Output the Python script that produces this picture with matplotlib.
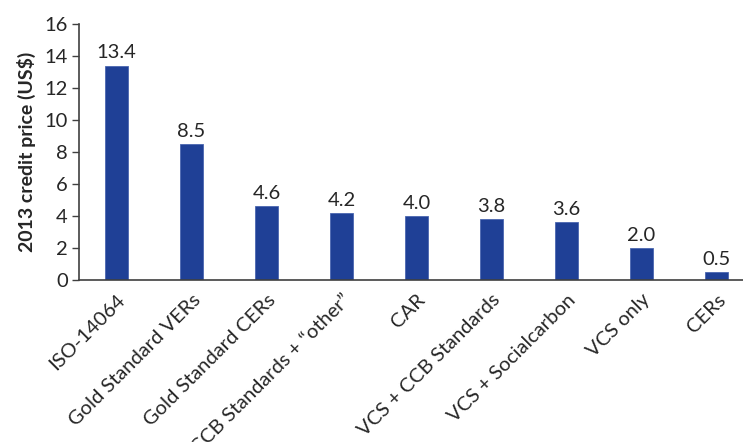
import matplotlib.pyplot as plt

categories = [
    "ISO-14064",
    "Gold Standard VERs",
    "Gold Standard CERs",
    "VCS + CCB Standards + \u201cother\u201d",
    "CAR",
    "VCS + CCB Standards",
    "VCS + Socialcarbon",
    "VCS only",
    "CERs",
]
prices = [13.4, 8.5, 4.6, 4.2, 4.0, 3.8, 3.6, 2.0, 0.5]
y_ticks = [0, 2, 4, 6, 8, 10, 12, 14, 16]

BAR_COLOR = "#1f4096"
TEXT_COLOR = "#262626"

plt.rcParams["font.family"] = ["Lato", "DejaVu Sans"]

fig = plt.figure(figsize=(7.43, 4.42), dpi=100)
ax = fig.add_axes([0.1063, 0.3665, 0.9085, 0.5792])

x = list(range(len(categories)))
bars = ax.bar(x, prices, width=0.31, color=BAR_COLOR, edgecolor="#4a66b0", linewidth=0.6)

for xi, v in zip(x, prices):
    ax.annotate(f"{v:.1f}", (xi, v), xytext=(0, 3), textcoords="offset points",
                ha="center", va="bottom", fontsize=14.5, color=TEXT_COLOR)

ax.set_xlim(-0.5, 8.5)
ax.set_ylim(0, 16)
ax.set_yticks(y_ticks)
ax.set_xticks(x)
ax.set_xticklabels(categories, rotation=45, ha="right", rotation_mode="anchor",
                   fontsize=14.5, color=TEXT_COLOR)
ax.tick_params(axis="x", length=0, pad=8)
ax.tick_params(axis="y", length=5, width=1, labelsize=14.5, labelcolor=TEXT_COLOR,
               color="#404040", pad=3)

for s in ["top", "right"]:
    ax.spines[s].set_visible(False)
for s in ["left", "bottom"]:
    ax.spines[s].set_color("#404040")
    ax.spines[s].set_linewidth(1.2)

ax.set_ylabel("2013 credit price (US$)", fontsize=14, fontweight="bold",
              color=TEXT_COLOR, labelpad=6)

fig.savefig("out.png", dpi=100)
